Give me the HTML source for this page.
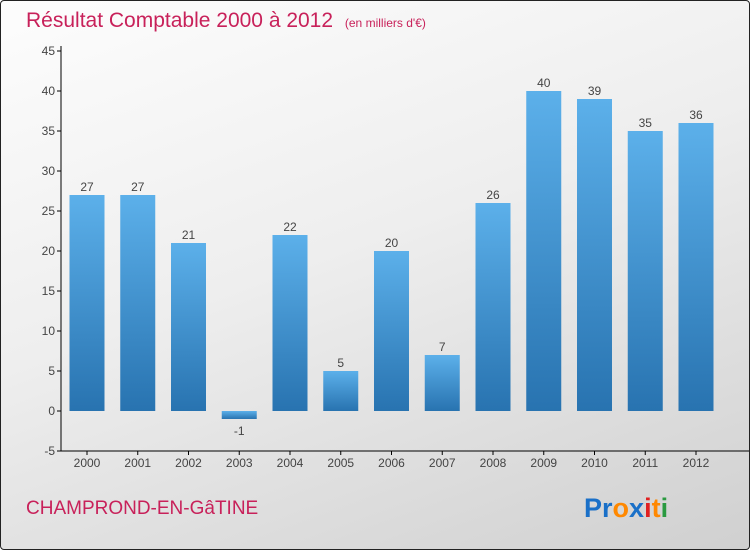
<!DOCTYPE html>
<html><head><meta charset="utf-8"><style>
body{margin:0}
#c{position:relative;width:748px;height:548px;border:1px solid #222;border-radius:4px;overflow:hidden;background:linear-gradient(160deg,#fdfdfd 0%,#eeeeee 45%,#d0d0d0 100%);font-family:"Liberation Sans",sans-serif}
</style></head><body>
<div id="c">
<svg width="748" height="548">
<defs><linearGradient id="g" x1="0" y1="0" x2="0" y2="1"><stop offset="0" stop-color="#5cb0ea"/><stop offset="1" stop-color="#2873b0"/></linearGradient></defs>
<text x="25" y="26" font-size="21" fill="#c8215a">Résultat Comptable 2000 à 2012 <tspan font-size="12" dx="6">(en milliers d'€)</tspan></text>
<g id="axes"></g><g id="bars"></g>
<text x="25" y="513" font-size="19" fill="#c8215a">CHAMPROND-EN-GâTINE</text>
<text x="583" y="516" font-size="27" font-weight="bold"><tspan fill="#1a70c8">Pr</tspan><tspan fill="#ff8800">o</tspan><tspan fill="#1a70c8">x</tspan><tspan fill="#e02020">i</tspan><tspan fill="#ff8800">t</tspan><tspan fill="#2a9a40">i</tspan></text>
</svg></div>
<script>
const years=["2000","2001","2002","2003","2004","2005","2006","2007","2008","2009","2010","2011","2012"];
const values=[27,27,21,-1,22,5,20,7,26,40,39,35,36];
const ticks=[-5,0,5,10,15,20,25,30,35,40,45];
const NS="http://www.w3.org/2000/svg";
const y=v=>410-v*8, x=i=>86+i*50.75;
function mk(t,a,p){const e=document.createElementNS(NS,t);for(const k in a)e.setAttribute(k,a[k]);p.appendChild(e);return e;}
const ax=document.getElementById('axes'),bs=document.getElementById('bars');
const yl=mk('line',{x1:60,y1:45,x2:60,y2:450,stroke:'#000'},ax);


const xl=mk('line',{x1:60,y1:450,x2:748,y2:450,stroke:'#000'},ax);


ticks.forEach(t=>{mk('line',{x1:56,x2:60,y1:y(t),y2:y(t),stroke:'#000'},ax);
const l=mk('text',{x:54,y:y(t)+4,'text-anchor':'end','font-size':12,fill:'#444'},ax);l.textContent=t;

});
years.forEach((yr,i)=>{mk('line',{x1:x(i),x2:x(i),y1:450,y2:454,stroke:'#000'},ax);
const l=mk('text',{x:x(i),y:466,'text-anchor':'middle','font-size':12,fill:'#444'},ax);l.textContent=yr;


const v=values[i],top=Math.min(y(v),y(0)),h=Math.abs(y(v)-y(0));
const r=mk('rect',{x:x(i)-17.5,y:top,width:35,height:h,fill:'url(#g)'},bs);


const vl=mk('text',{x:x(i),y:v>=0?y(v)-4:y(v)+16,'text-anchor':'middle','font-size':12,fill:'#444'},bs);vl.textContent=v;

});
</script></body></html>
